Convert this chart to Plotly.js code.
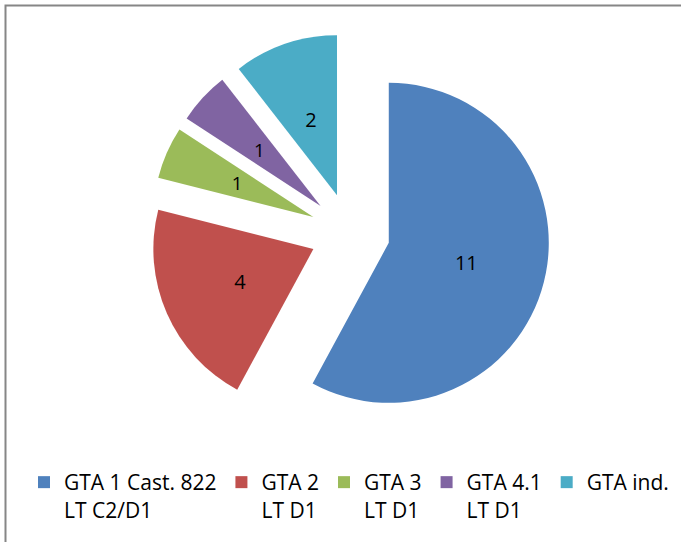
<!DOCTYPE html>
<html>
<head>
<meta charset="utf-8">
<script src="https://cdn.plot.ly/plotly-3.0.1.min.js"></script>
<style>html,body{margin:0;padding:0;background:#fff;}#chart{width:681px;height:542px;}</style>
</head>
<body>
<div id="chart"></div>
<script>
var labels = ["GTA 1 Cast. 822<br>LT C2/D1", "GTA 2<br>LT D1", "GTA 3<br>LT D1", "GTA 4.1<br>LT D1", "GTA ind."];
var values = [11, 4, 1, 1, 2];
var colors = ["#4F81BD", "#C0504D", "#9BBB59", "#8064A2", "#4BACC6"];

var W = 681, H = 542;
var CX = 350, CY = 233;      // pie centre (px)
var R = 160, PULL_PX = 40;   // slice radius and explode distance (px)
var FONT = "Open Sans, sans-serif";

function domainFor(r) {
  var half = r + PULL_PX;
  return {x: [(CX - half) / W, (CX + half) / W], y: [1 - (CY + half) / H, 1 - (CY - half) / H]};
}
function pullFor(r) {
  return values.map(function () { return PULL_PX / r; });
}
// value labels: which slices each trace labels
function tmpl(show) {
  return values.map(function (v, i) { return show.indexOf(i) >= 0 ? "%{value}" : ""; });
}

var main = {
  type: "pie",
  labels: labels,
  values: values,
  sort: false,
  direction: "clockwise",
  rotation: 0,
  pull: pullFor(R),
  marker: {colors: colors, line: {width: 0}},
  texttemplate: tmpl([0]),
  textposition: "inside",
  insidetextorientation: "horizontal",
  insidetextfont: {family: FONT, size: 20, color: "#000000"},
  hoverinfo: "label+value",
  domain: domainFor(R)
};

// transparent helper pies that only carry the value labels at mid-radius
function labelPie(r, show) {
  return {
    type: "pie",
    labels: labels,
    values: values,
    sort: false,
    direction: "clockwise",
    rotation: 0,
    pull: pullFor(r),
    marker: {colors: values.map(function () { return "rgba(0,0,0,0)"; }), line: {width: 0}},
    texttemplate: tmpl(show),
    textposition: "inside",
    insidetextorientation: "horizontal",
    insidetextfont: {family: FONT, size: 20, color: "#000000"},
    hoverinfo: "skip",
    showlegend: false,
    domain: domainFor(r)
  };
}

var traces = [main, labelPie(129, [1]), labelPie(106, [4]), labelPie(97, [2, 3])];

var layout = {
  width: W, height: H,
  margin: {l: 0, r: 0, t: 0, b: 0},
  paper_bgcolor: "#ffffff",
  showlegend: true,
  legend: {
    orientation: "h",
    x: 24 / W, xanchor: "left",
    y: 1 - 462 / H, yanchor: "top",
    valign: "top",
    itemwidth: 30,
    font: {family: FONT, size: 21, color: "#000000"},
    bgcolor: "rgba(0,0,0,0)"
  },
  shapes: [{
    type: "rect", xref: "paper", yref: "paper",
    x0: 5.5 / W, x1: 1.2, y0: -0.2, y1: 1 - 5.5 / H,
    line: {color: "#868686", width: 2}
  }]
};

Plotly.newPlot("chart", traces, layout, {displayModeBar: false, staticPlot: true});
</script>
</body>
</html>
